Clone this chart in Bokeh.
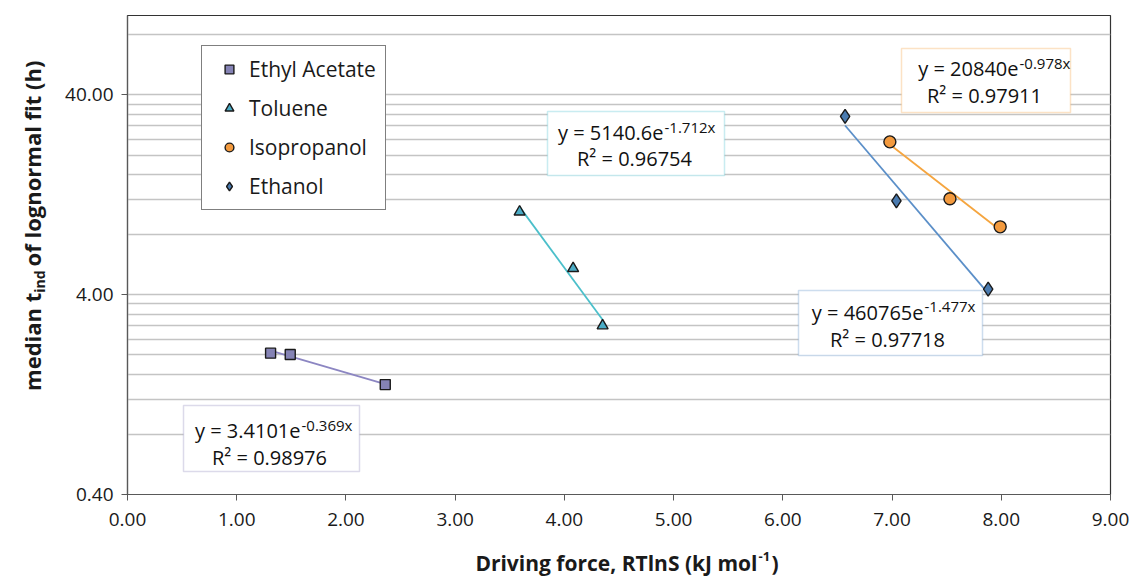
import numpy as np
from bokeh.plotting import figure
from bokeh.layouts import row, column
from bokeh.models import (FixedTicker, PrintfTickFormatter, Range1d, Label,
                          BoxAnnotation, Legend, LegendItem)
from bokeh.core.properties import value
from bokeh.embed import file_html
from bokeh.resources import INLINE

# ---- data: driving force (kJ/mol) vs median induction time (h) ----
ea_x = [1.31, 1.49, 2.36]
ea_y = [2.04, 2.01, 1.42]
tol_x = [3.59, 4.08, 4.35]
tol_y = [10.4, 5.42, 2.80]
ipa_x = [6.98, 7.53, 7.99]
ipa_y = [23.3, 12.1, 8.75]
eth_x = [6.57, 7.04, 7.88]
eth_y = [31.3, 11.8, 4.27]

# exponential fits y = a * exp(b * x) and their R^2
ea_fit = (3.4101, -0.369, 0.98976)
tol_fit = (5140.6, -1.712, 0.96754)
ipa_fit = (20840, -0.978, 0.97911)
eth_fit = (460765, -1.477, 0.97718)
ea_eq = ("3.4101", "-0.369x")
tol_eq = ("5140.6", "-1.712x")
ipa_eq = ("20840", "-0.978x")
eth_eq = ("460765", "-1.477x")

x_ticks = [0, 1, 2, 3, 4, 5, 6, 7, 8, 9]
y_ticks = [0.4, 4, 40]

# ---- layout (canvas pixels) ----
W, H = 1134, 576
YW = 60            # strip holding the rotated y title
XH = 30            # strip holding the x title
PH = H - XH        # height of the chart row
FL, FR, FT, FB = 127, 1110, 15, 494
X0, X1 = 0.0, 9.0
Y0, Y1 = 0.4, 100.0
FONT = "Open Sans"
TXT = "#1a1a1a"

p = figure(width=W - YW, height=PH, output_backend="svg", toolbar_location=None,
           x_range=Range1d(X0, X1), y_range=Range1d(Y0, Y1), y_axis_type="log",
           min_border_left=FL - YW, min_border_right=W - FR,
           min_border_top=FT, min_border_bottom=PH - FB)
p.background_fill_color = "white"
p.border_fill_color = "white"
p.outline_line_color = "#333333"
p.outline_line_width = 1.2


def dx(px):
    return X0 + (px - FL) / (FR - FL) * (X1 - X0)


def dy(py):
    l0, l1 = np.log10(Y0), np.log10(Y1)
    return 10 ** (l1 - (py - FT) / (FB - FT) * (l1 - l0))


# axes
minor = [b * k for b in y_ticks for k in range(2, 10) if b * k <= Y1 + 1e-9]
p.yaxis.ticker = FixedTicker(ticks=y_ticks, minor_ticks=minor)
p.xaxis.ticker = FixedTicker(ticks=x_ticks)
for ax in (p.xaxis[0], p.yaxis[0]):
    ax.formatter = PrintfTickFormatter(format="%.2f")
    ax.axis_line_color = "#595959"
    ax.axis_line_width = 1.2
    ax.major_tick_line_color = "#595959"
    ax.major_tick_in = 0
    ax.major_tick_out = 6
    ax.minor_tick_line_color = None
    ax.major_label_text_font = FONT
    ax.major_label_text_font_size = "19px"
    ax.major_label_text_color = TXT
p.xaxis.major_label_standoff = 12
p.yaxis.major_label_standoff = 8

p.xgrid.grid_line_color = None
p.ygrid.grid_line_color = "#c4c4c4"
p.ygrid.grid_line_width = 1.3
p.ygrid.minor_grid_line_color = "#c4c4c4"
p.ygrid.minor_grid_line_width = 1.3

series = [
    ("Ethyl Acetate", ea_x, ea_y, ea_fit, "square", 10, "#8583b5", "#8c86c2"),
    ("Toluene", tol_x, tol_y, tol_fit, "triangle", 11, "#4bacc6", "#4bbfca"),
    ("Isopropanol", ipa_x, ipa_y, ipa_fit, "circle", 12, "#f39a3e", "#f5a53f"),
    ("Ethanol", eth_x, eth_y, eth_fit, "diamond", 14, "#4a7bb0", "#5b8fc8"),
]

items = []
for name, xs, ys, (a, b, r2), marker, size, fill, line in series:
    xf = np.linspace(min(xs), max(xs), 2)
    p.line(xf, a * np.exp(b * xf), line_color=line, line_width=1.8)
for name, xs, ys, (a, b, r2), marker, size, fill, line in series:
    r = p.scatter(xs, ys, marker=marker, size=size, fill_color=fill,
                  line_color="#1a1a1a", line_width=1.4)
    items.append(LegendItem(label=name, renderers=[r]))

legend = Legend(items=items, location=(201 - FL, FB - 210))
legend.border_line_color = "black"
legend.border_line_width = 1.5
legend.background_fill_color = "white"
legend.background_fill_alpha = 1
legend.label_text_font = FONT
legend.label_text_font_size = "21px"
legend.label_text_color = TXT
legend.glyph_width = 36
legend.glyph_height = 22
legend.label_height = 22
legend.spacing = 11
legend.padding = 9
legend.margin = 0
legend.label_standoff = 2
p.add_layout(legend)

# ---- equation boxes ----
# box left, right, top, bottom, split x, line-1 y, exponent y, R2 centre x, R2 y
boxes = [
    (ea_fit, ea_eq, "#8a86b8", (183, 359, 405, 471, 300, 430, 424, 269, 457)),
    (tol_fit, tol_eq, "#4bbfd0", (547, 724, 111, 175, 663, 132, 126, 634, 158)),
    (ipa_fit, ipa_eq, "#f5a040", (901, 1070, 48, 112, 1018, 68, 62, 984, 95)),
    (eth_fit, eth_eq, "#5b8fc8", (798, 982, 290, 355, 923, 312, 305, 887, 339)),
]

for (a, b, r2), (a_txt, b_txt), col, (bl, br, bt, bb, sx, y1, ys, rx, ry) in boxes:
    p.add_layout(BoxAnnotation(left=dx(bl), right=dx(br), top=dy(bt), bottom=dy(bb),
                               fill_color="white", fill_alpha=1.0,
                               line_color=col, line_width=1.5))
    p.add_layout(Label(x=dx(sx), y=dy(y1), text="y = %se" % a_txt,
                       text_align="right", text_baseline="middle",
                       text_font=FONT, text_font_size="20px", text_color="#111111"))
    p.add_layout(Label(x=dx(sx + 1), y=dy(ys), text=b_txt,
                       text_align="left", text_baseline="middle",
                       text_font=FONT, text_font_size="15px", text_color="#111111"))
    p.add_layout(Label(x=dx(rx), y=dy(ry), text="R\u00b2 = %.5f" % r2,
                       text_align="center", text_baseline="middle",
                       text_font=FONT, text_font_size="20px", text_color="#111111"))


def strip(width, height):
    f = figure(width=width, height=height, output_backend="svg", toolbar_location=None,
               x_range=Range1d(0, width), y_range=Range1d(0, height),
               x_axis_location=None, y_axis_location=None,
               min_border=0, outline_line_color=None)
    f.xgrid.grid_line_color = None
    f.ygrid.grid_line_color = None
    f.background_fill_color = "white"
    f.border_fill_color = "white"
    return f


bold = dict(text_font=value(FONT), text_font_style="bold", text_color=TXT)

# y title: rotated, with subscript "ind"
yf = strip(YW, PH)
ysplit = 316
yf.text(x=[31], y=[PH - ysplit], text=["median t"], angle=np.pi / 2,
        text_align="right", text_baseline="middle", text_font_size="22px", **bold)
yf.text(x=[39], y=[PH - ysplit], text=["ind"], angle=np.pi / 2,
        text_align="left", text_baseline="middle", text_font_size="14px", **bold)
yf.text(x=[31], y=[PH - ysplit + 30], text=["of lognormal fit (h)"], angle=np.pi / 2,
        text_align="left", text_baseline="middle", text_font_size="22px", **bold)

# x title with superscript "-1"
xf = strip(W, XH)
xsplit = 757
xf.text(x=[xsplit], y=[H - 562], text=["Driving force, RTlnS (kJ mol"],
        text_align="right", text_baseline="middle", text_font_size="21px", **bold)
xf.text(x=[xsplit + 1], y=[H - 556], text=["-1"],
        text_align="left", text_baseline="middle", text_font_size="13px", **bold)
xf.text(x=[xsplit + 14], y=[H - 562], text=[")"],
        text_align="left", text_baseline="middle", text_font_size="21px", **bold)

layout = column(row(yf, p, spacing=0), xf, spacing=0)
open("out.html", "w").write(file_html(layout, INLINE))
